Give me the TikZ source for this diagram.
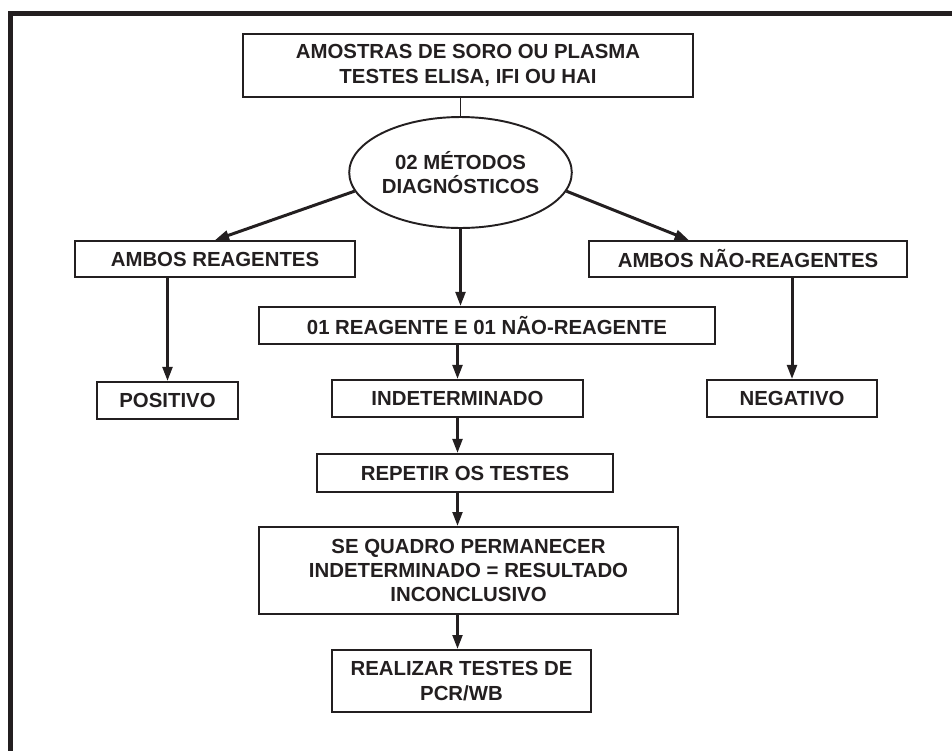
\documentclass[tikz,border=0pt]{standalone}
\usepackage{fontspec}
\setmainfont{Liberation Sans}
\usetikzlibrary{shapes.geometric,arrows.meta,calc}
\definecolor{ink}{HTML}{231F20}

\begin{document}
\begin{tikzpicture}[x=0.02cm,y=-0.02cm,
  box/.style={draw=ink,line width=1.1pt,rectangle,inner sep=0pt,align=center,text=ink,
    font=\fontsize{11.6}{13.9}\selectfont\bfseries},
  flow/.style={draw=ink,line width=1.7pt,-{Triangle[length=8pt,width=5.5pt]}}]
  \useasboundingbox (0,0) rectangle (952,751);

  % Draw the frame
  \draw[ink,line width=2.8pt] (952,13.5) -- (10.5,13.5) -- (10.5,751);

  % Draw the boxes
  \node[box,minimum width=9cm,minimum height=1.26cm] (amostras) at (468,65.5) {AMOSTRAS DE SORO OU PLASMA\\TESTES ELISA, IFI OU HAI};
  \node[box,ellipse,minimum width=4.3cm,minimum height=2.22cm] (metodos) at (460.5,172.5) {02 MÉTODOS\\DIAGNÓSTICOS};
  \node[box,minimum width=5.6cm,minimum height=0.72cm] (ambos) at (215,259) {AMBOS REAGENTES};
  \node[box,minimum width=6.36cm,minimum height=0.72cm] (naoreag) at (748,259) {AMBOS NÃO-REAGENTES};
  \node[box,minimum width=9.12cm,minimum height=0.74cm] (misto) at (487,325.5) {01 REAGENTE E 01 NÃO-REAGENTE};
  \node[box,minimum width=2.82cm,minimum height=0.74cm] (positivo) at (167.5,400.5) {POSITIVO};
  \node[box,minimum width=5.02cm,minimum height=0.74cm] (indet) at (457.5,398.5) {INDETERMINADO};
  \node[box,minimum width=3.4cm,minimum height=0.74cm] (negativo) at (792,398.5) {NEGATIVO};
  \node[box,minimum width=5.92cm,minimum height=0.76cm] (repetir) at (465,473) {REPETIR OS TESTES};
  \node[box,minimum width=8.38cm,minimum height=1.74cm] (quadro) at (468.5,570.5) {SE QUADRO PERMANECER\\INDETERMINADO = RESULTADO\\INCONCLUSIVO};
  \node[box,minimum width=5.18cm,minimum height=1.24cm] (realizar) at (461.5,681) {REALIZAR TESTES DE\\PCR/WB};

  % Draw the connectors
  \draw[ink,line width=1.1pt] (metodos.north |- amostras.south) -- (metodos.north);
  \draw[flow] (metodos.190) -- (ambos.north);
  \draw[flow] (metodos.-10) -- ($(naoreag.north west)!0.315!(naoreag.north east)$);
  \draw[flow] (metodos.south) -- (metodos.south |- misto.north);
  \draw[flow] (positivo.north |- ambos.south) -- (positivo.north);
  \draw[flow] (negativo.north |- naoreag.south) -- (negativo.north);
  \draw[flow] (indet.north |- misto.south) -- (indet.north);
  \draw[flow] (indet.south) -- (indet.south |- repetir.north);
  \draw[flow] (indet.south |- repetir.south) -- (indet.south |- quadro.north);
  \draw[flow] (indet.south |- quadro.south) -- (indet.south |- realizar.north);
\end{tikzpicture}
\end{document}
